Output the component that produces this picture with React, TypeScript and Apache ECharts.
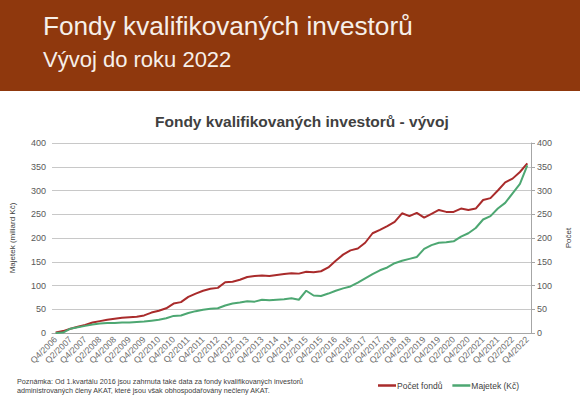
import React, { useEffect, useRef } from "react";
import * as echarts from "echarts";

const quarters: string[] = (() => {
  const out: string[] = ["Q4/2006"];
  for (let y = 2007; y <= 2022; y++) for (let q = 1; q <= 4; q++) out.push(`Q${q}/${y}`);
  return out;
})();

const pocetFondu = [
  1, 4, 9, 13, 17, 22, 25, 28, 30, 32, 33, 34, 37, 43, 47, 52, 62, 65, 76, 83,
  89, 93, 95, 107, 108, 112, 118, 120, 121, 120, 122, 124, 126, 125, 129, 128, 130, 138, 152, 165,
  174, 178, 190, 210, 217, 225, 234, 252, 246, 253, 243, 251, 259, 255, 255, 262, 259, 262, 280, 284,
  300, 317, 325, 339, 357,
];

const majetek = [
  0, 1, 9, 12, 15, 18, 20, 21, 21, 22, 22, 23, 24, 26, 28, 31, 36, 37, 42, 46,
  49, 51, 52, 58, 62, 64, 67, 66, 70, 69, 70, 71, 73, 70, 89, 79, 78, 83, 89, 94,
  98, 106, 115, 124, 132, 138, 147, 152, 156, 160, 177, 185, 190, 191, 193, 203, 210, 221, 239, 246,
  262, 274, 294, 314, 353,
];

const RED = "#a92b2b";
const GREEN = "#4da772";
const FONT = "'Liberation Sans', Arial, sans-serif";

export default function App() {
  const ref = useRef<HTMLDivElement>(null);
  useEffect(() => {
    if (!ref.current) return;
    const chart = echarts.init(ref.current, null, { renderer: "svg" });
    const axisLabel = { color: "#595959", fontSize: 9, fontFamily: FONT };
    chart.setOption({
      animation: false,
      backgroundColor: "#ffffff",
      textStyle: { fontFamily: FONT },
      graphic: [
        { type: "rect", shape: { x: 0, y: 0, width: 580, height: 91 }, style: { fill: "#8f380d" }, silent: true },
        {
          type: "text", left: 43, top: 13,
          style: { text: "Fondy kvalifikovaných investorů", fill: "#f6efe9", fontSize: 26.2, fontFamily: FONT },
        },
        {
          type: "text", left: 43, top: 48,
          style: { text: "Vývoj do roku 2022", fill: "#f6efe9", fontSize: 22, fontFamily: FONT },
        },
        {
          type: "text", left: 17, top: 377,
          style: {
            text: "Poznámka: Od 1.kvartálu 2016 jsou zahrnuta také data za fondy kvalifikovaných investorů\nadministrovaných členy AKAT, které jsou však obhospodařovány nečleny AKAT.",
            fill: "#404040", fontSize: 7.2, lineHeight: 9, fontFamily: FONT,
          },
        },
      ],
      title: {
        text: "Fondy kvalifikovaných investorů - vývoj",
        left: 150, top: 108,
        textStyle: { color: "#404040", fontSize: 15.5, fontWeight: "bold", fontFamily: FONT },
      },
      legend: {
        left: 373, top: 376,
        itemWidth: 18, itemHeight: 2.5, itemGap: 10, icon: "rect",
        textStyle: { color: "#404040", fontSize: 8.5, fontFamily: FONT, padding: [0, 0, 0, -4] },
        data: ["Počet fondů", "Majetek (Kč)"],
      },
      grid: { left: 47, right: 35, top: 143, bottom: 79, containLabel: false },
      xAxis: {
        type: "category",
        data: quarters,
        boundaryGap: true,
        axisLine: { lineStyle: { color: "#a6a6a6" } },
        axisTick: { interval: 0, length: 3, lineStyle: { color: "#a6a6a6" } },
        axisLabel: { ...axisLabel, color: "#6b6b6b", fontSize: 8.8, rotate: 45, interval: 1, margin: 5 },
      },
      yAxis: [
        {
          type: "value", min: 0, max: 400, interval: 50, position: "left",
          name: "Majetek (miliard Kč)", nameLocation: "middle", nameGap: 36,
          nameTextStyle: { color: "#404040", fontSize: 8, fontFamily: FONT },
          axisLine: { show: false }, axisTick: { show: false },
          axisLabel: { ...axisLabel, margin: 6 },
          splitLine: { lineStyle: { color: "#c8c8c8", width: 1 } },
        },
        {
          type: "value", min: 0, max: 400, interval: 50, position: "right",
          name: "Počet", nameLocation: "middle", nameGap: 33,
          nameTextStyle: { color: "#404040", fontSize: 8, fontFamily: FONT },
          axisLine: { show: true, lineStyle: { color: "#a6a6a6" } },
          axisTick: { show: true, length: 4, lineStyle: { color: "#a6a6a6" } },
          axisLabel: { ...axisLabel, margin: 6 },
          splitLine: { show: false },
        },
      ],
      series: [
        {
          name: "Počet fondů", type: "line", yAxisIndex: 1, data: pocetFondu,
          showSymbol: false, symbol: "none", lineStyle: { color: RED, width: 2 }, itemStyle: { color: RED },
        },
        {
          name: "Majetek (Kč)", type: "line", yAxisIndex: 0, data: majetek,
          showSymbol: false, symbol: "none", lineStyle: { color: GREEN, width: 2 }, itemStyle: { color: GREEN },
        },
      ],
    });
    return () => chart.dispose();
  }, []);
  return (
    <div
      ref={ref}
      style={{ position: "fixed", left: 0, top: 0, width: 580, height: 412, background: "#fff" }}
    />
  );
}
